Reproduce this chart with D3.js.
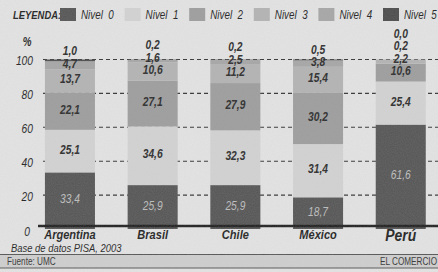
<!DOCTYPE html>
<html>
<head>
<meta charset="utf-8">
<script src="https://cdn.jsdelivr.net/npm/d3@7"></script>
<style>
  body { margin: 0; background: #e4e4e4; }
  svg { display: block; }
  text { font-family: "Liberation Sans", Arial, sans-serif; }
</style>
</head>
<body>
<svg id="chart" width="438" height="272"></svg>
<script>
const countries = ["Argentina", "Brasil", "Chile", "México", "Perú"];
const levels = ["Nivel 0", "Nivel 1", "Nivel 2", "Nivel 3", "Nivel 4", "Nivel 5"];
// one array per level, in country order
const nivel0 = [33.4, 25.9, 25.9, 18.7, 61.6];
const nivel1 = [25.1, 34.6, 32.3, 31.4, 25.4];
const nivel2 = [22.1, 27.1, 27.9, 30.2, 10.6];
const nivel3 = [13.7, 10.6, 11.2, 15.4, 2.2];
const nivel4 = [4.7, 1.6, 2.5, 3.8, 0.2];
const nivel5 = [1.0, 0.2, 0.2, 0.5, 0.0];
const yTicks = [0, 20, 40, 60, 80, 100];

const LEVEL_COLORS = ["#545454", "#d3d3d3", "#9d9d9d", "#b3b3b3", "#a6a6a6", "#4a4a4a"];
const INK = "#1e1e1e";
const SQUEEZE = 0.82; // fake a condensed face

const svg = d3.select("#chart");
const W = 438, H = 272;

// paper grain
const defs = svg.append("defs");
const grain = defs.append("filter").attr("id", "grain");
grain.append("feTurbulence").attr("type", "fractalNoise").attr("baseFrequency", 0.9).attr("numOctaves", 2).attr("seed", 3);
grain.append("feColorMatrix").attr("type", "matrix")
  .attr("values", "0 0 0 0 0.5  0 0 0 0 0.5  0 0 0 0 0.5  0 0 0 0.18 0");

svg.append("rect").attr("width", W).attr("height", H).attr("fill", "#e4e4e4");

const rows = countries.map((c, i) => ({
  country: c,
  "Nivel 0": nivel0[i], "Nivel 1": nivel1[i], "Nivel 2": nivel2[i],
  "Nivel 3": nivel3[i], "Nivel 4": nivel4[i], "Nivel 5": nivel5[i]
}));
const series = d3.stack().keys(levels)(rows);

const x = d3.scaleBand().domain(countries).range([28.6, 442.1])
  .paddingInner(0.395).paddingOuter(0.1975);
const y = d3.scaleLinear().domain([0, 100]).range([229, 59.5]);

// text helper: squeezed horizontally around its anchor
const put = (sel, px, py) =>
  sel.attr("transform", (d, i) => {
    const tx = typeof px === "function" ? px(d, i) : px;
    const ty = typeof py === "function" ? py(d, i) : py;
    return `translate(${tx},${ty}) scale(${SQUEEZE},1)`;
  });

// dashed grid
svg.append("g")
  .selectAll("line")
  .data(yTicks.filter((t) => t > 0))
  .join("line")
  .attr("x1", 43).attr("x2", W)
  .attr("y1", (d) => y(d)).attr("y2", (d) => y(d))
  .attr("stroke", "#333").attr("stroke-width", 1.1)
  .attr("stroke-dasharray", "4,3");

// y tick labels
const yAxis = d3.axisLeft(y).tickValues(yTicks).tickSize(0).tickPadding(0);
const ya = svg.append("g").attr("transform", "translate(33,1)").call(yAxis);
ya.select(".domain").remove();
ya.selectAll("text")
  .attr("font-family", "Liberation Sans, sans-serif")
  .attr("font-style", "italic").attr("font-size", 12.5).attr("fill", INK)
  .attr("transform", `scale(${SQUEEZE},1)`);
ya.selectAll(".tick").filter((d) => d === 0).attr("transform", `translate(-3,${y(0) + 2})`);

put(svg.append("text"), 27, 46).attr("text-anchor", "middle")
  .attr("font-size", 12).attr("font-weight", "bold").attr("font-style", "italic")
  .attr("fill", INK).text("%");

// bars
svg.append("g")
  .selectAll("g")
  .data(series)
  .join("g")
  .attr("fill", (d, i) => LEVEL_COLORS[i])
  .selectAll("rect")
  .data((d) => d)
  .join("rect")
  .attr("x", (d) => x(d.data.country))
  .attr("width", x.bandwidth())
  .attr("y", (d) => y(d[1]))
  .attr("height", (d) => y(d[0]) - y(d[1]));

// value labels, pushed up so small top segments do not collide
const fmt = (v) => v.toFixed(1).replace(".", ",");
const labels = [];
countries.forEach((c, ci) => {
  let prev = Infinity;
  series.forEach((s, li) => {
    const seg = s[ci];
    let ly = y((seg[0] + seg[1]) / 2) - 2;
    ly = Math.min(ly, prev - 12.5);
    prev = ly;
    labels.push({ country: c, level: li, value: seg.data[levels[li]], y: ly });
  });
});

put(svg.append("g")
  .selectAll("text")
  .data(labels)
  .join("text"), (d) => x(d.country) + x.bandwidth() / 2, (d) => d.y)
  .attr("dy", "0.36em")
  .attr("text-anchor", "middle")
  .attr("font-size", 12.5)
  .attr("font-style", "italic")
  .attr("font-weight", (d) => (d.level === 0 ? "normal" : "bold"))
  .attr("fill", (d) => (d.level === 0 ? "#bdbdbd" : "#2a2a2a"))
  .text((d) => fmt(d.value));

// baseline
svg.append("line").attr("x1", 38).attr("x2", W)
  .attr("y1", y(0) - 3).attr("y2", y(0) - 3)
  .attr("stroke", INK).attr("stroke-width", 2.5);

// country labels
put(svg.append("g")
  .selectAll("text")
  .data(countries)
  .join("text"), (d) => x(d) + x.bandwidth() / 2, (d) => (d === "Perú" ? 241 : 238.5))
  .attr("text-anchor", "middle")
  .attr("font-size", (d) => (d === "Perú" ? 17 : 13.5))
  .attr("font-weight", "bold").attr("font-style", "italic")
  .attr("fill", INK)
  .text((d) => d);

// legend
put(svg.append("text"), 13, 19)
  .attr("font-size", 11.5).attr("font-weight", "bold").attr("font-style", "italic")
  .attr("fill", INK).text("LEYENDA:");
const lg = svg.append("g")
  .selectAll("g")
  .data(levels)
  .join("g")
  .attr("transform", (d, i) => `translate(${60 + i * 64.6},8)`);
lg.append("rect").attr("width", 16).attr("height", 13)
  .attr("fill", (d, i) => LEVEL_COLORS[i]);
put(lg.append("text"), 21, 11)
  .attr("font-size", 12).attr("font-style", "italic")
  .attr("fill", INK).attr("xml:space", "preserve")
  .text((d) => d.replace(" ", "  "));

// source + footer band
put(svg.append("text"), 11, 252)
  .attr("font-size", 11.5).attr("font-style", "italic").attr("fill", INK)
  .text("Base de datos PISA, 2003");
svg.append("rect").attr("x", 0).attr("y", 254.5).attr("width", W).attr("height", 13.5)
  .attr("fill", "#cfcfcf");
svg.append("line").attr("x1", 0).attr("x2", W).attr("y1", 254.5).attr("y2", 254.5)
  .attr("stroke", "#555").attr("stroke-width", 1);
svg.append("line").attr("x1", 0).attr("x2", W).attr("y1", 268).attr("y2", 268)
  .attr("stroke", "#555").attr("stroke-width", 1);
put(svg.append("text"), 7, 265)
  .attr("font-size", 10).attr("fill", "#333").text("Fuente: UMC");
put(svg.append("text"), 437, 265).attr("text-anchor", "end")
  .attr("font-size", 10).attr("fill", "#333").text("EL COMERCIO");

svg.append("rect").attr("width", W).attr("height", H).attr("filter", "url(#grain)")
  .attr("pointer-events", "none");
</script>
</body>
</html>
